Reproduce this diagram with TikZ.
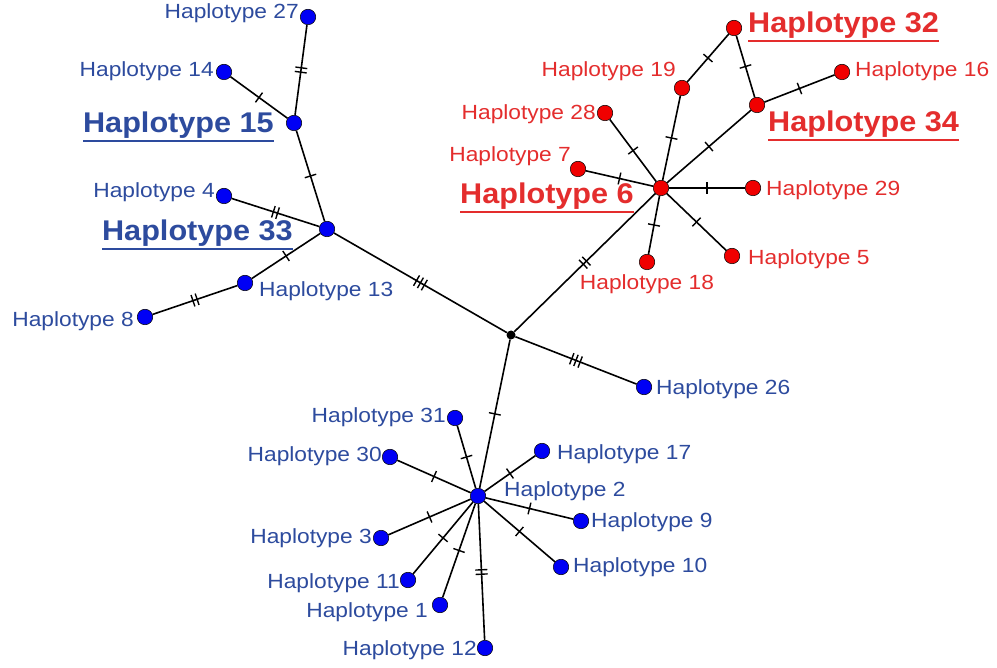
\documentclass[tikz,border=0pt]{standalone}
\usepackage{fontspec}
\usetikzlibrary{decorations.markings}
\newfontfamily\labfam[FakeStretch=1.11]{Liberation Sans}
\newfontfamily\labbfam[FakeStretch=1.075]{Liberation Sans}
\newcommand\labfont{\labfam\fontsize{20.5}{23}\selectfont}
\newcommand\labbfont{\labbfam\bfseries\fontsize{28.5}{32}\selectfont}
\newcommand\ulbl[1]{\vtop{\hbox{#1}\kern0.6pt\hrule height 2.4pt}}
\definecolor{nodeblue}{RGB}{0,0,245}
\definecolor{nodered}{RGB}{240,0,0}
\definecolor{textblue}{RGB}{45,75,158}
\definecolor{textred}{RGB}{228,45,45}
\tikzset{
  bn/.style={circle, draw=black, line width=0.5pt, fill=nodeblue, minimum size=15.5pt, inner sep=0pt},
  rn/.style={circle, draw=black, line width=0.5pt, fill=nodered, minimum size=15.5pt, inner sep=0pt},
  jn/.style={circle, fill=black, minimum size=9pt, inner sep=0pt},
  bl/.style={text=textblue, font=\labfont, inner sep=0pt, yshift=-2pt},
  rl/.style={text=textred, font=\labfont, inner sep=0pt, yshift=-2pt},
  bbl/.style={text=textblue, font=\labbfont, inner sep=0pt},
  rbl/.style={text=textred, font=\labbfont, inner sep=0pt},
  edge/.style={line width=1.6pt, black},
  tickline/.style={line width=1.4pt, black},
  t1/.style={postaction={decorate}, decoration={markings, mark=at position 0.5 with {\draw[tickline] (0,-6pt) -- (0,6pt);}}},
  t2/.style={postaction={decorate}, decoration={markings, mark=at position 0.5 with {\draw[tickline] (-2.2pt,-6pt) -- (-2.2pt,6pt) (2.2pt,-6pt) -- (2.2pt,6pt);}}},
  t3/.style={postaction={decorate}, decoration={markings, mark=at position 0.5 with {\draw[tickline] (-4.5pt,-6pt) -- (-4.5pt,6pt) (0pt,-6pt) -- (0pt,6pt) (4.5pt,-6pt) -- (4.5pt,6pt);}}}
}
\begin{document}
\begin{tikzpicture}[x=1pt,y=-1pt]
\useasboundingbox[fill=white] (0,0) rectangle (997,668);
% nodes
\node[bn] (h27) at (308,17) {};
\node[bn] (h14) at (224,72) {};
\node[bn] (h15) at (294,123) {};
\node[bn] (h4) at (224,196) {};
\node[bn] (h33) at (327,229) {};
\node[bn] (h13) at (245,283) {};
\node[bn] (h8) at (145,317) {};
\node[jn] (j) at (511,335) {};
\node[bn] (h26) at (644,387) {};
\node[bn] (h2) at (478,496) {};
\node[bn] (h31) at (455,418) {};
\node[bn] (h30) at (390,457) {};
\node[bn] (h17) at (542,451) {};
\node[bn] (h9) at (581,521) {};
\node[bn] (h10) at (561,567) {};
\node[bn] (h3) at (381,538) {};
\node[bn] (h11) at (408,580) {};
\node[bn] (h1) at (440,605) {};
\node[bn] (h12) at (485,648) {};
\node[rn] (h6) at (661,188) {};
\node[rn] (h7) at (578,169) {};
\node[rn] (h28) at (605,113) {};
\node[rn] (h19) at (682,88) {};
\node[rn] (h32) at (734,28) {};
\node[rn] (h34) at (757,105) {};
\node[rn] (h16) at (842,72) {};
\node[rn] (h29) at (753,188) {};
\node[rn] (h5) at (732,256) {};
\node[rn] (h18) at (647,262) {};
% edges
\draw[edge,t2] (h27) -- (h15);
\draw[edge,t1] (h14) -- (h15);
\draw[edge,t1] (h15) -- (h33);
\draw[edge,t2] (h4) -- (h33);
\draw[edge,t1] (h33) -- (h13);
\draw[edge,t2] (h13) -- (h8);
\draw[edge,t3] (h33) -- (j);
\draw[edge,t2] (j) -- (h6);
\draw[edge,t3] (j) -- (h26);
\draw[edge,t1] (j) -- (h2);
\draw[edge,t1] (h6) -- (h7);
\draw[edge,t1] (h6) -- (h28);
\draw[edge,t1] (h6) -- (h19);
\draw[edge,t1] (h6) -- (h34);
\draw[edge,t1] (h6) -- (h29);
\draw[edge,t1] (h6) -- (h5);
\draw[edge,t1] (h6) -- (h18);
\draw[edge,t1] (h19) -- (h32);
\draw[edge,t1] (h32) -- (h34);
\draw[edge,t1] (h34) -- (h16);
\draw[edge,t1] (h2) -- (h31);
\draw[edge,t1] (h2) -- (h30);
\draw[edge,t1] (h2) -- (h17);
\draw[edge,t1] (h2) -- (h9);
\draw[edge,t1] (h2) -- (h10);
\draw[edge,t1] (h2) -- (h3);
\draw[edge,t1] (h2) -- (h11);
\draw[edge,t1] (h2) -- (h1);
\draw[edge,t2] (h2) -- (h12);
% labels blue
\node[bl, anchor=mid east] (l27) at (299,14) {Haplotype 27};
\node[bl, anchor=mid east] (l14) at (214,72) {Haplotype 14};
\node[bbl, anchor=base east] (l15) at (274,133) {\ulbl{Haplotype 15}};
\node[bl, anchor=mid east] (l4) at (215,193) {Haplotype 4};
\node[bbl, anchor=base east] (l33) at (293,241) {\ulbl{Haplotype 33}};
\node[bl, anchor=mid west] (l13) at (259,292) {Haplotype 13};
\node[bl, anchor=mid east] (l8) at (134,322) {Haplotype 8};
\node[bl, anchor=mid west] (l26) at (656,390) {Haplotype 26};
\node[bl, anchor=mid west] (l2) at (504,492) {Haplotype 2};
\node[bl, anchor=mid east] (l31) at (446,418) {Haplotype 31};
\node[bl, anchor=mid east] (l30) at (382,457) {Haplotype 30};
\node[bl, anchor=mid west] (l17) at (557,455) {Haplotype 17};
\node[bl, anchor=mid west] (l9) at (591,523) {Haplotype 9};
\node[bl, anchor=mid west] (l10) at (573,568) {Haplotype 10};
\node[bl, anchor=mid east] (l3) at (372,539) {Haplotype 3};
\node[bl, anchor=mid east] (l11) at (400,584) {Haplotype 11};
\node[bl, anchor=mid east] (l1) at (428,613) {Haplotype 1};
\node[bl, anchor=mid east] (l12) at (477,651) {Haplotype 12};
% labels red
\node[rbl, anchor=base west] (l32) at (748,33) {\ulbl{Haplotype 32}};
\node[rl, anchor=mid east] (l19) at (676,72) {Haplotype 19};
\node[rl, anchor=mid west] (l16) at (855,72) {Haplotype 16};
\node[rl, anchor=mid east] (l28) at (596,115) {Haplotype 28};
\node[rbl, anchor=base west] (l34) at (768,132) {\ulbl{Haplotype 34}};
\node[rl, anchor=mid east] (l7) at (571,157) {Haplotype 7};
\node[rbl, anchor=base east] (l6) at (634,204) {\ulbl{Haplotype 6}};
\node[rl, anchor=mid west] (l29) at (766,191) {Haplotype 29};
\node[rl, anchor=mid west] (l5) at (748,260) {Haplotype 5};
\node[rl, anchor=mid] (l18) at (647,285) {Haplotype 18};
\end{tikzpicture}
\end{document}
